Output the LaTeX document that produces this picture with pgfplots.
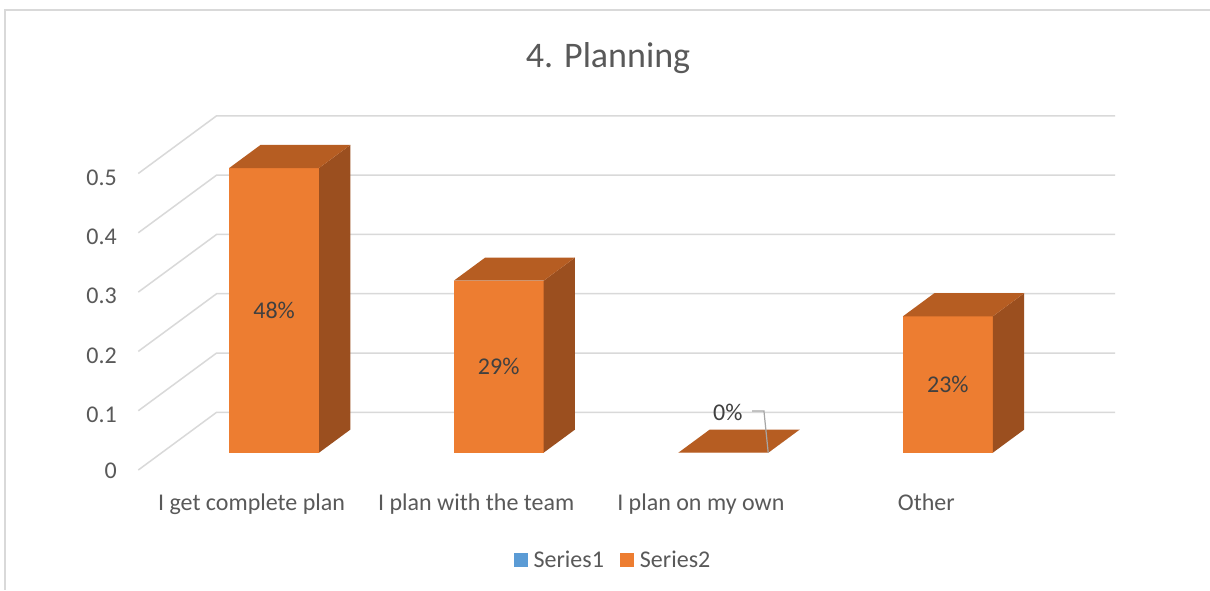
\documentclass[border=0pt]{standalone}
\usepackage{fontspec}
\setmainfont{Carlito}
\usepackage{pgfplots}
\pgfplotsset{compat=1.18}
\definecolor{txt}{HTML}{595959}
\definecolor{lbl}{HTML}{404040}
\definecolor{gridc}{HTML}{D9D9D9}
\definecolor{frontc}{HTML}{ED7D31}
\definecolor{topc}{HTML}{B65D22}
\definecolor{sidec}{HTML}{9B4F1F}
\definecolor{sone}{HTML}{5B9BD5}
\definecolor{leader}{HTML}{A6A6A6}
% one 3-D bar: left x, right x, value
\newcommand{\drawbar}[3]{%
  \addplot3[fill=frontc, draw=none] coordinates {(#1,0.3,0) (#2,0.3,0) (#2,0.3,#3) (#1,0.3,#3)} -- cycle;
  \addplot3[fill=sidec, draw=none] coordinates {(#2,0.3,0) (#2,0.7,0) (#2,0.7,#3) (#2,0.3,#3)} -- cycle;
  \addplot3[fill=topc, draw=none] coordinates {(#1,0.3,#3) (#2,0.3,#3) (#2,0.7,#3) (#1,0.7,#3)} -- cycle;
}
\begin{document}
\begin{tikzpicture}
\path[use as bounding box] (-138.3pt,-120pt) rectangle (1071.7pt,470pt);
\fill[white] (-138.3pt,-120pt) rectangle (1071.7pt,470pt);
\draw[gridc, line width=1.5pt] (1071.7pt,460pt) -- (-133.3pt,460pt) -- (-133.3pt,-120pt);
\begin{axis}[
  at={(0pt,0pt)}, anchor=origin,
  x={(224.6pt,0pt)}, y={(78.3pt,57.7pt)}, z={(0pt,593pt)},
  xmin=0, xmax=4, ymin=0, ymax=1, zmin=0, zmax=0.5,
  clip=false,
  axis line style={draw=none},
  major tick length=0pt,
  xtick={0.5,1.5,2.5,3.5},
  xticklabels={I get complete plan, I plan with the team, I plan on my own, Other},
  ytick=\empty,
  ztick={0,0.1,0.2,0.3,0.4,0.5},
  /pgf/number format/assume math mode=true,
  /pgf/number format/fixed,
  ticklabel style={font=\fontsize{24}{28}\selectfont, text=txt},
  xticklabel style={yshift=-20pt, xshift=8pt},
  zticklabel style={xshift=-18pt, yshift=2pt},
  title={4. Planning},
  title style={at={(0.481,1.147)}, anchor=center, font=\fontsize{36}{43}\selectfont, text=txt},
  legend columns=2,
  legend style={at={(0.486,-0.253)}, anchor=center, draw=none, fill=none,
    font=\fontsize{24}{28}\selectfont, text=txt,
    /tikz/every even column/.append style={column sep=14pt}},
  legend image code/.code={\fill[#1] (0pt,-7pt) rectangle (14pt,7pt); \path (18pt,0pt);},
]
\addlegendimage{fill=sone, draw=none}
\addlegendentry{Series1}
\addlegendimage{fill=frontc, draw=none}
\addlegendentry{Series2}
\pgfplotsinvokeforeach{0,0.1,0.2,0.3,0.4,0.5}{
  \addplot3[gridc, line width=1.5pt, forget plot] coordinates {(0,0,#1) (0,1,#1) (4,1,#1)};
}
\drawbar{0.3}{0.7}{0.48}
\drawbar{1.3}{1.7}{0.29}
\drawbar{2.3}{2.7}{0}
\drawbar{3.3}{3.7}{0.23}
\addplot3[leader, line width=1.2pt, forget plot] coordinates {(2.628,0.3,0.0703) (2.681,0.3,0.0703) (2.7,0.3,0)};
\node[text=lbl, font=\fontsize{24}{28}\selectfont] at (axis cs:0.5,0.3,0.24) {48\%};
\node[text=lbl, font=\fontsize{24}{28}\selectfont] at (axis cs:1.5,0.3,0.145) {29\%};
\node[text=lbl, font=\fontsize{24}{28}\selectfont] at (axis cs:2.52,0.3,0.0686) {0\%};
\node[text=lbl, font=\fontsize{24}{28}\selectfont] at (axis cs:3.5,0.3,0.115) {23\%};
\end{axis}
\end{tikzpicture}
\end{document}
